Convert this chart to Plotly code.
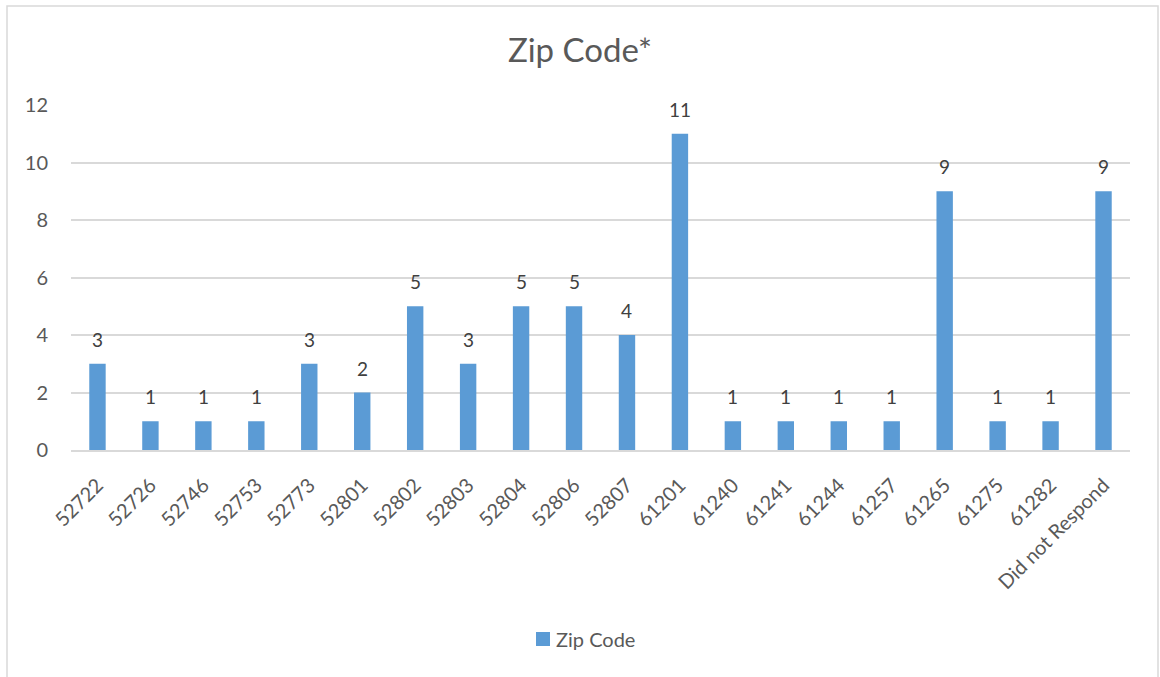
import plotly.graph_objects as go

# Survey responses by zip code
zip_codes = ["52722", "52726", "52746", "52753", "52773", "52801", "52802", "52803",
             "52804", "52806", "52807", "61201", "61240", "61241", "61244", "61257",
             "61265", "61275", "61282", "Did not Respond"]
counts = [3, 1, 1, 1, 3, 2, 5, 3, 5, 5, 4, 11, 1, 1, 1, 1, 9, 1, 1, 9]
y_ticks = [0, 2, 4, 6, 8, 10, 12]
series_name = "Zip Code"

BAR_COLOR = "#5b9bd5"
TEXT_COLOR = "#595959"
LABEL_COLOR = "#404040"
GRID_COLOR = "#d9d9d9"
FONT = "Lato, 'Open Sans', sans-serif"

W, H = 1160, 677
L, R, T, B = 71, 30, 105, 227
plot_w = W - L - R
plot_h = H - T - B

# Numeric positions for each category so labels and bars share one scale
positions = list(range(len(zip_codes)))

fig = go.Figure()
fig.add_trace(go.Bar(
    x=positions,
    y=counts,
    name=series_name,
    width=0.31,
    marker=dict(color=BAR_COLOR, line=dict(width=0)),
    showlegend=False,
))

# Value labels above each bar
for pos, val in zip(positions, counts):
    fig.add_annotation(
        x=pos, y=val, xref="x", yref="y", text=str(val), showarrow=False,
        yanchor="bottom", yshift=11,
        font=dict(family=FONT, size=19, color=LABEL_COLOR),
    )


def px_x(px):
    return (px - L) / plot_w


def px_y(py):
    return (H - B - py) / plot_h


# Chart frame
fig.add_shape(
    type="rect", xref="paper", yref="paper",
    x0=px_x(7), x1=px_x(1158), y0=px_y(6), y1=px_y(690),
    line=dict(color=GRID_COLOR, width=1.5), fillcolor="rgba(0,0,0,0)",
    layer="below",
)

# Legend: swatch plus series name, centred below the axis labels
fig.add_shape(
    type="rect", xref="paper", yref="paper",
    x0=px_x(536), x1=px_x(550), y0=px_y(646), y1=px_y(632),
    line=dict(width=0), fillcolor=BAR_COLOR,
)
fig.add_annotation(
    xref="paper", yref="paper", x=px_x(554), y=px_y(639),
    xanchor="left", yanchor="middle", showarrow=False,
    text=series_name, font=dict(family=FONT, size=20, color=TEXT_COLOR),
)

fig.update_layout(
    width=W, height=H,
    margin=dict(l=L, r=R, t=T, b=B),
    paper_bgcolor="white",
    plot_bgcolor="white",
    showlegend=False,
    font=dict(family=FONT, color=TEXT_COLOR),
    title=dict(
        text="Zip Code*", x=0.5, xref="container", xanchor="center",
        y=1 - 50 / H, yref="container", yanchor="middle",
        font=dict(family=FONT, size=33, color=TEXT_COLOR),
    ),
    xaxis=dict(
        type="linear",
        range=[-0.5, len(zip_codes) - 0.5],
        tickmode="array",
        tickvals=positions,
        ticktext=zip_codes,
        tickangle=-45,
        tickfont=dict(family=FONT, size=20, color=TEXT_COLOR),
        showgrid=False, zeroline=False,
        showline=True, linecolor=GRID_COLOR, linewidth=1.5,
        ticks="", ticklabelstandoff=14,
    ),
    yaxis=dict(
        type="linear",
        range=[0, 12],
        tickmode="array",
        tickvals=y_ticks,
        tickfont=dict(family=FONT, size=20, color=TEXT_COLOR),
        showgrid=True, gridcolor=GRID_COLOR, gridwidth=1.5,
        zeroline=False, showline=False,
        ticks="", ticklabelstandoff=22,
    ),
)

fig.write_html("out.html")
